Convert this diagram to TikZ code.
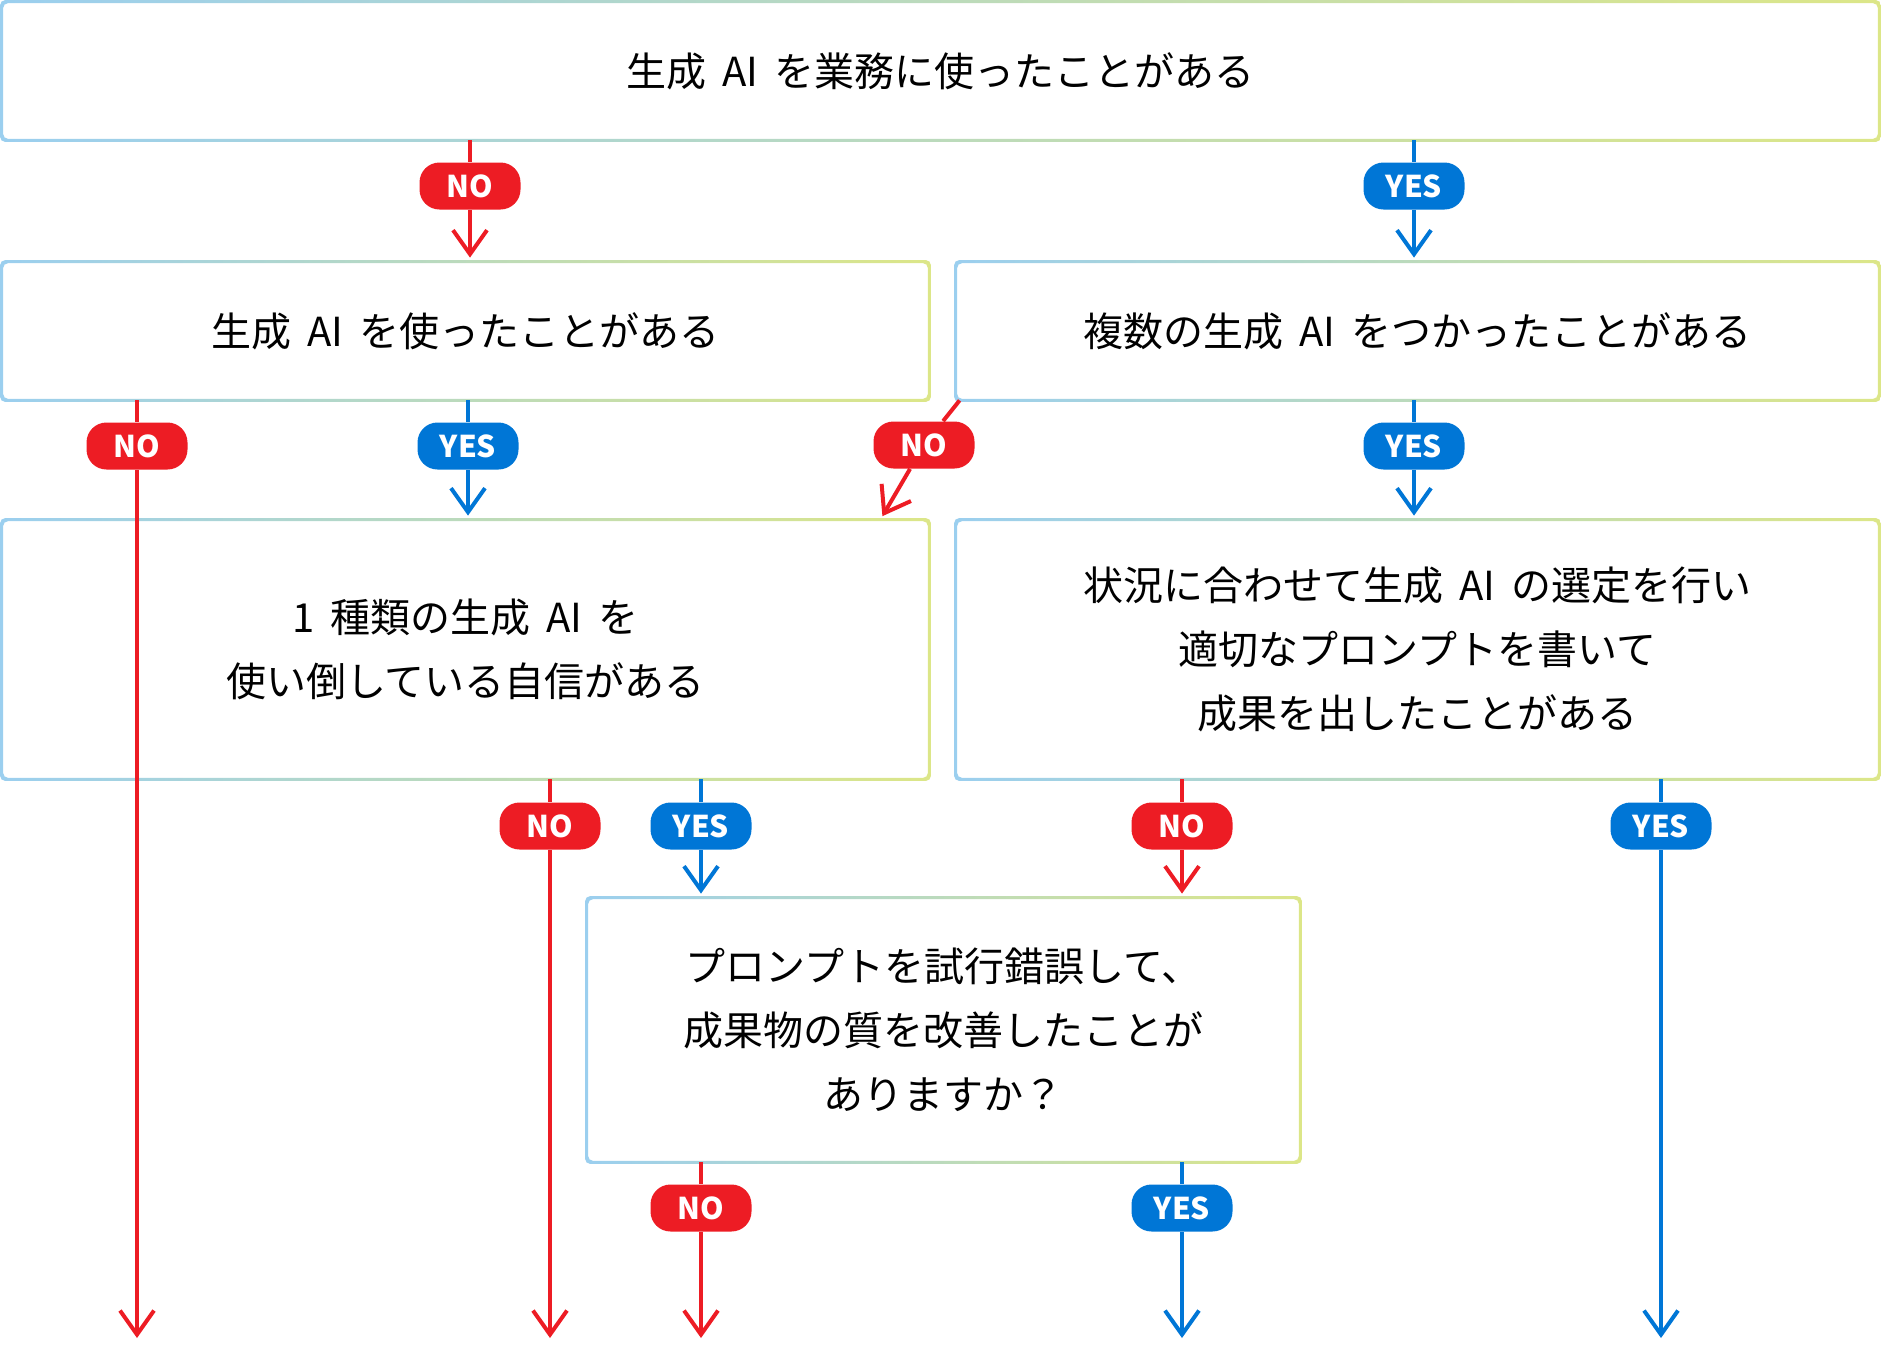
\documentclass[tikz,border=0pt]{standalone}
\usepackage{fontspec}
\setmainfont{Noto Sans CJK JP}
\usepackage{tikz}
\usetikzlibrary{arrows.meta, positioning}

\definecolor{nored}{HTML}{ED1C24}
\definecolor{yesblue}{HTML}{0076D6}
\definecolor{edgeA}{HTML}{9BCFEF}
\definecolor{edgeB}{HTML}{52BBA8}
\definecolor{edgeC}{HTML}{DCE688}

\begin{document}
\begin{tikzpicture}[x=0.5pt, y=-0.5pt,
    qbox/.style={rectangle, inner sep=0pt, align=center, font=\fontsize{20}{32}\selectfont},
    badge/.style={rounded corners=10pt, minimum width=50.5pt, minimum height=23.5pt, inner sep=0pt,
      text=white, font=\fontsize{15}{15}\selectfont\bfseries},
    nobadge/.style={badge, fill=nored},
    yesbadge/.style={badge, fill=yesblue},
    noline/.style={draw=nored, line width=2pt},
    yesline/.style={draw=yesblue, line width=2pt},
    tip/.style={-{Straight Barb[length=12pt, width=17pt]}, line join=miter, shorten >=2pt}]

    \useasboundingbox (0,0) rectangle (1881,1345);

    % question boxes
    \node[qbox, minimum width=938.5pt, minimum height=69pt] (q1) at (940.5,71) {生成\, AI\, を業務に使ったことがある};
    \node[qbox, minimum width=463.5pt, minimum height=69pt] (q2) at (465.5,331) {生成\, AI\, を使ったことがある};
    \node[qbox, minimum width=461.5pt, minimum height=69pt] (q3) at (1417.5,331) {複数の生成\, AI\, をつかったことがある};
    \node[qbox, minimum width=463.5pt, minimum height=129.5pt] (q4) at (465.5,649.5)
      {1\, 種類の生成\, AI\, を\\使い倒している自信がある};
    \node[qbox, minimum width=461.5pt, minimum height=129.5pt] (q5) at (1417.5,649.5)
      {状況に合わせて生成\, AI\, の選定を行い\\適切なプロンプトを書いて\\成果を出したことがある};
    \node[qbox, minimum width=356.5pt, minimum height=132pt] (q6) at (943.5,1030)
      {プロンプトを試行錯誤して、\\成果物の質を改善したことが\\ありますか？};

    % gradient frames
    \foreach \i in {1,...,6} {
      \shade[even odd rule, rounded corners=2.5pt, left color=edgeA, middle color=edgeB, right color=edgeC]
        ([shift={(-0.75pt,0.75pt)}]q\i.north west) rectangle ([shift={(0.75pt,-0.75pt)}]q\i.south east)
        ([shift={(0.75pt,-0.75pt)}]q\i.north west) rectangle ([shift={(-0.75pt,0.75pt)}]q\i.south east);
    }

    % loose ends at the bottom
    \coordinate (e1) at (137,1342);
    \coordinate (e2) at (550,1342);
    \coordinate (e3) at (1661,1342);
    \coordinate (e4) at (701,1342);
    \coordinate (e5) at (1182,1342);

    % answers
    \node[nobadge] (n1) at (470,186) {NO};
    \node[yesbadge] (y1) at (1414,186) {YES};
    \node[nobadge] (n2) at (137,446) {NO};
    \node[yesbadge] (y2) at (468,446) {YES};
    \node[nobadge] (n3) at (924,445) {NO};
    \node[yesbadge] (y3) at (1414,446) {YES};
    \node[nobadge] (n4) at (550,826) {NO};
    \node[yesbadge] (y4) at (701,826) {YES};
    \node[nobadge] (n5) at (1182,826) {NO};
    \node[yesbadge] (y5) at (1661,826) {YES};
    \node[nobadge] (n6) at (701,1208) {NO};
    \node[yesbadge] (y6) at (1182,1208) {YES};

    %
    \draw[noline] (q1.south -| n1) -- (n1);
    \draw[noline, tip] (n1) -- (q2.north -| n1);
    \draw[yesline] (q1.south -| y1) -- (y1);
    \draw[yesline, tip] (y1) -- (q3.north -| y1);
    %
    \draw[noline] (q2.south -| n2) -- (n2);
    \draw[noline, tip] (n2) -- (e1);
    \draw[yesline] (q2.south -| y2) -- (y2);
    \draw[yesline, tip] (y2) -- (q4.north -| y2);
    \draw[noline] ([xshift=2pt]q3.south west) -- (n3);
    \draw[noline, tip] (n3) -- ([xshift=-24.5pt]q4.north east);
    \draw[yesline] (q3.south -| y3) -- (y3);
    \draw[yesline, tip] (y3) -- (q5.north -| y3);
    %
    \draw[noline] (q4.south -| n4) -- (n4);
    \draw[noline, tip] (n4) -- (e2);
    \draw[yesline] (q4.south -| y4) -- (y4);
    \draw[yesline, tip] (y4) -- (q6.north -| y4);
    \draw[noline] (q5.south -| n5) -- (n5);
    \draw[noline, tip] (n5) -- (q6.north -| n5);
    \draw[yesline] (q5.south -| y5) -- (y5);
    \draw[yesline, tip] (y5) -- (e3);
    %
    \draw[noline] (q6.south -| n6) -- (n6);
    \draw[noline, tip] (n6) -- (e4);
    \draw[yesline] (q6.south -| y6) -- (y6);
    \draw[yesline, tip] (y6) -- (e5);
\end{tikzpicture}
\end{document}
